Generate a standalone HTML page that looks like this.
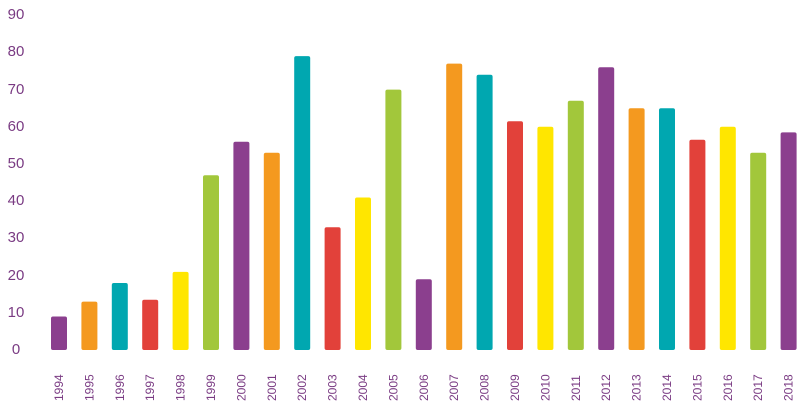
<!DOCTYPE html>
<html><head><meta charset="utf-8"><style>
body{margin:0;background:#fff;}
svg{display:block;font-family:"Liberation Sans",sans-serif;}
</style></head><body>
<svg width="800" height="410" viewBox="0 0 800 410" xmlns="http://www.w3.org/2000/svg">
<g fill="#7a3b83" font-size="15" text-anchor="middle">
<text x="16" y="354">0</text><text x="16" y="317">10</text><text x="16" y="280">20</text><text x="16" y="242">30</text><text x="16" y="205">40</text><text x="16" y="168">50</text><text x="16" y="131">60</text><text x="16" y="94">70</text><text x="16" y="56">80</text><text x="16" y="19">90</text>
</g>
<g>
<rect x="51" y="316.5" width="16" height="33.5" rx="2" fill="#8b3f8e"/>
<rect x="81.4" y="301.6" width="16" height="48.4" rx="2" fill="#f4991f"/>
<rect x="111.8" y="283" width="16" height="67" rx="2" fill="#00a7b0"/>
<rect x="142.2" y="299.8" width="16" height="50.2" rx="2" fill="#e2413a"/>
<rect x="172.6" y="271.9" width="16" height="78.1" rx="2" fill="#ffe600"/>
<rect x="203" y="175.2" width="16" height="174.8" rx="2" fill="#a2c73b"/>
<rect x="233.4" y="141.7" width="16" height="208.3" rx="2" fill="#8b3f8e"/>
<rect x="263.8" y="152.8" width="16" height="197.2" rx="2" fill="#f4991f"/>
<rect x="294.2" y="56.1" width="16" height="293.9" rx="2" fill="#00a7b0"/>
<rect x="324.6" y="227.2" width="16" height="122.8" rx="2" fill="#e2413a"/>
<rect x="355" y="197.5" width="16" height="152.5" rx="2" fill="#ffe600"/>
<rect x="385.4" y="89.6" width="16" height="260.4" rx="2" fill="#a2c73b"/>
<rect x="415.8" y="279.3" width="16" height="70.7" rx="2" fill="#8b3f8e"/>
<rect x="446.2" y="63.6" width="16" height="286.4" rx="2" fill="#f4991f"/>
<rect x="476.6" y="74.7" width="16" height="275.3" rx="2" fill="#00a7b0"/>
<rect x="507" y="121.2" width="16" height="228.8" rx="2" fill="#e2413a"/>
<rect x="537.4" y="126.8" width="16" height="223.2" rx="2" fill="#ffe600"/>
<rect x="567.8" y="100.8" width="16" height="249.2" rx="2" fill="#a2c73b"/>
<rect x="598.2" y="67.3" width="16" height="282.7" rx="2" fill="#8b3f8e"/>
<rect x="628.6" y="108.2" width="16" height="241.8" rx="2" fill="#f4991f"/>
<rect x="659" y="108.2" width="16" height="241.8" rx="2" fill="#00a7b0"/>
<rect x="689.4" y="139.8" width="16" height="210.2" rx="2" fill="#e2413a"/>
<rect x="719.8" y="126.8" width="16" height="223.2" rx="2" fill="#ffe600"/>
<rect x="750.2" y="152.8" width="16" height="197.2" rx="2" fill="#a2c73b"/>
<rect x="780.6" y="132.4" width="16" height="217.6" rx="2" fill="#8b3f8e"/>
</g>
<g fill="#7a3b83" font-size="12">
<text transform="translate(63,401) rotate(-90)">1994</text>
<text transform="translate(93.4,401) rotate(-90)">1995</text>
<text transform="translate(123.8,401) rotate(-90)">1996</text>
<text transform="translate(154.2,401) rotate(-90)">1997</text>
<text transform="translate(184.6,401) rotate(-90)">1998</text>
<text transform="translate(215,401) rotate(-90)">1999</text>
<text transform="translate(245.4,401) rotate(-90)">2000</text>
<text transform="translate(275.8,401) rotate(-90)">2001</text>
<text transform="translate(306.2,401) rotate(-90)">2002</text>
<text transform="translate(336.6,401) rotate(-90)">2003</text>
<text transform="translate(367,401) rotate(-90)">2004</text>
<text transform="translate(397.4,401) rotate(-90)">2005</text>
<text transform="translate(427.8,401) rotate(-90)">2006</text>
<text transform="translate(458.2,401) rotate(-90)">2007</text>
<text transform="translate(488.6,401) rotate(-90)">2008</text>
<text transform="translate(519,401) rotate(-90)">2009</text>
<text transform="translate(549.4,401) rotate(-90)">2010</text>
<text transform="translate(579.8,401) rotate(-90)">2011</text>
<text transform="translate(610.2,401) rotate(-90)">2012</text>
<text transform="translate(640.6,401) rotate(-90)">2013</text>
<text transform="translate(671,401) rotate(-90)">2014</text>
<text transform="translate(701.4,401) rotate(-90)">2015</text>
<text transform="translate(731.8,401) rotate(-90)">2016</text>
<text transform="translate(762.2,401) rotate(-90)">2017</text>
<text transform="translate(792.6,401) rotate(-90)">2018</text>
</g>
</svg>
</body></html>
